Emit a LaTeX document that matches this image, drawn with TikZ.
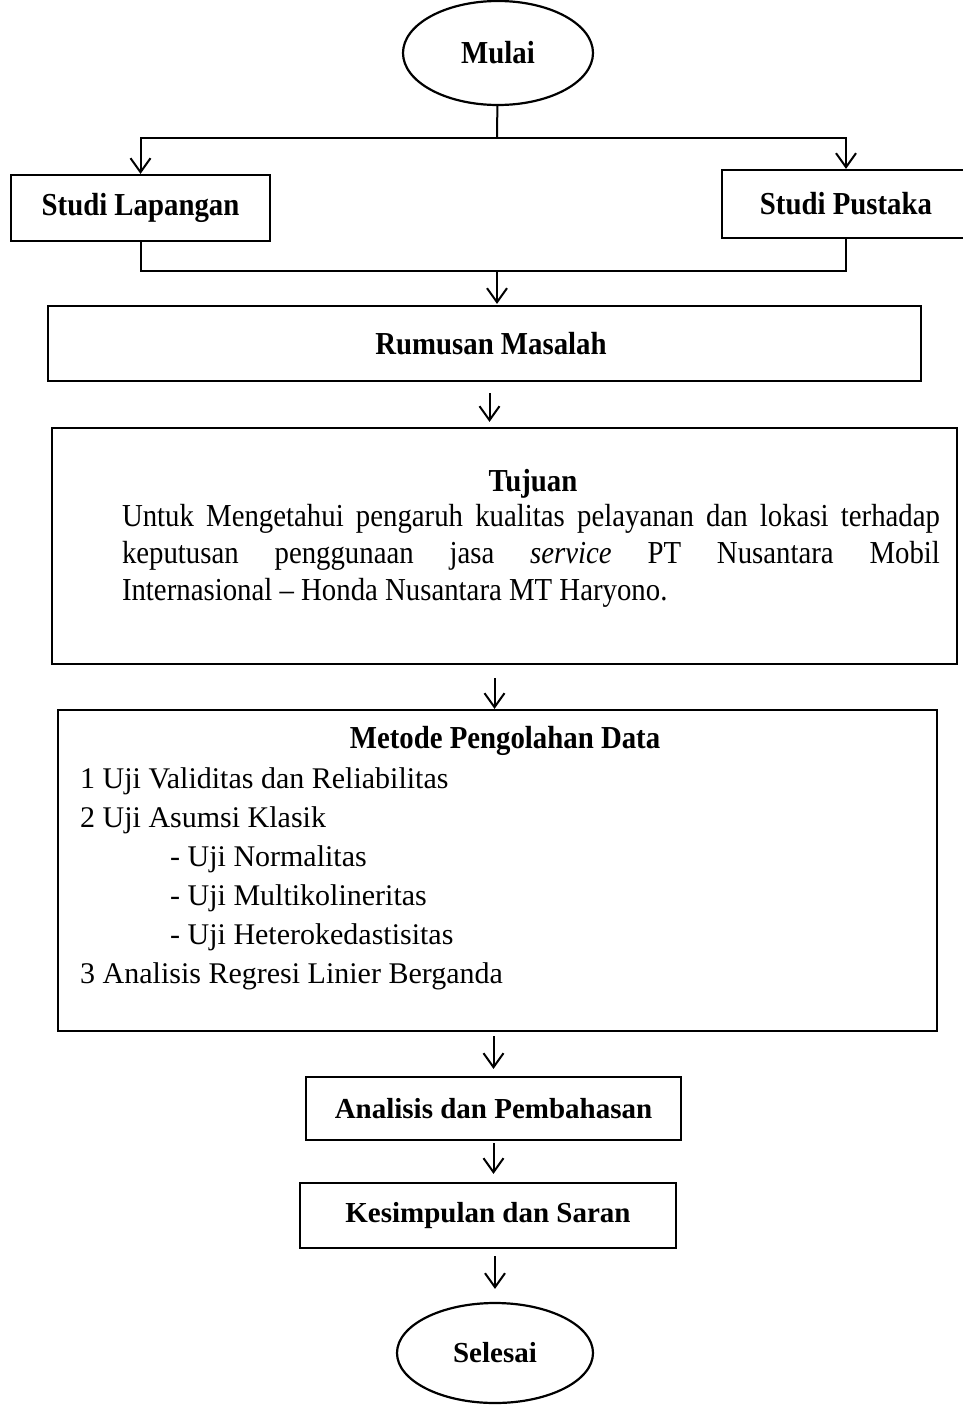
\documentclass[tikz,border=0pt]{standalone}
\usepackage{fontspec}
\setmainfont{Liberation Serif}[FakeStretch=0.9]
\newfontfamily\wideserif{Liberation Serif}
\usetikzlibrary{shapes.geometric,arrows.meta}

\begin{document}
\begin{tikzpicture}[x=1pt,y=-1pt,
        box/.style={draw,rectangle,line width=2.2pt,inner sep=0pt,font=\bfseries\fontsize{32}{37}\selectfont},
        smallbox/.style={box,font=\wideserif\bfseries\fontsize{29}{34}\selectfont},
        term/.style={draw,ellipse,line width=2.2pt,inner sep=0pt},
        link/.style={line width=2pt},
        flow/.style={-{Straight Barb[length=14pt,width=20pt]},line width=2pt}
    ]
        \useasboundingbox (0,0) rectangle (963,1405);

        % Define the nodes
        \node[term,minimum width=190pt,minimum height=104pt,font=\bfseries\fontsize{32}{37}\selectfont] (mulai) at (498,53) {Mulai};
        \node[box,minimum width=259pt,minimum height=66pt] (lapangan) at (140.5,208) {Studi Lapangan};
        \node[box,minimum width=248pt,minimum height=68pt] (pustaka) at (846,204) {Studi Pustaka};
        \node[box,minimum width=873pt,minimum height=75pt] (rumusan) at (484.5,343.5) {\hspace*{13pt}Rumusan Masalah};
        \node[box,minimum width=905pt,minimum height=236pt] (tujuan) at (504.5,546) {};
        \node[box,minimum width=879pt,minimum height=321pt] (metode) at (497.5,870.5) {};
        \node[smallbox,minimum width=375pt,minimum height=63pt] (analisis) at (493.5,1108.5) {Analisis dan Pembahasan};
        \node[smallbox,minimum width=376pt,minimum height=65pt] (kesimpulan) at (488,1215.5) {Kesimpulan dan Saran};
        \node[term,minimum width=196pt,minimum height=100pt,font=\wideserif\bfseries\fontsize{29}{34}\selectfont] (selesai) at (495,1353) {Selesai};

        % Texts inside the two large boxes
        \node[font=\bfseries\fontsize{32}{37}\selectfont] (tujuantitle) at (533,484) {Tujuan};
        \node[text width=818pt,align=justify,inner sep=0pt,font=\fontsize{32}{37}\selectfont] (tujuantext) at (531,556)
            {Untuk Mengetahui pengaruh kualitas pelayanan dan lokasi terhadap\linebreak
             keputusan penggunaan jasa \textit{service} PT Nusantara Mobil\linebreak
             Internasional -- Honda Nusantara MT Haryono.};
        \node[font=\bfseries\fontsize{32}{37}\selectfont] (metodetitle) at (505,741) {Metode Pengolahan Data};
        \node[anchor=north west,align=left,inner sep=0pt,font=\wideserif\fontsize{30}{39}\selectfont] (metodelist) at (80,767)
            {1 Uji Validitas dan Reliabilitas\\
             2 Uji Asumsi Klasik\\
             \hspace*{90pt}- Uji Normalitas\\
             \hspace*{90pt}- Uji Multikolineritas\\
             \hspace*{90pt}- Uji Heterokedastisitas\\
             3 Analisis Regresi Linier Berganda};

        % Split and merge points
        \coordinate (split) at (497,138);
        \coordinate (join) at (497,271);

        % Draw the connectors
        \draw [link] (mulai) -- (split);
        \draw [flow] (split) -| (lapangan);
        \draw [flow] (split) -| (pustaka);
        \draw [link] (lapangan) |- (join);
        \draw [link] (pustaka) |- (join);
        \draw [flow,shorten >=1pt] (join) -- (join |- rumusan.north);
        \draw [flow,shorten <=11pt,shorten >=5pt] ([xshift=5pt]rumusan.south) -- ([xshift=5pt]rumusan.south |- tujuan.north);
        \draw [flow,shorten <=13pt] ([xshift=-10pt]tujuan.south) -- ([xshift=-10pt]tujuan.south |- metode.north);
        \draw [flow,shorten <=4pt,shorten >=7pt] (analisis.north |- metode.south) -- (analisis.north);
        \draw [flow,shorten <=2pt,shorten >=8pt] (analisis.south) -- (analisis.south |- kesimpulan.north);
        \draw [flow,shorten <=7pt,shorten >=13pt] (selesai.north |- kesimpulan.south) -- (selesai.north); % End
    \end{tikzpicture}
\end{document}
